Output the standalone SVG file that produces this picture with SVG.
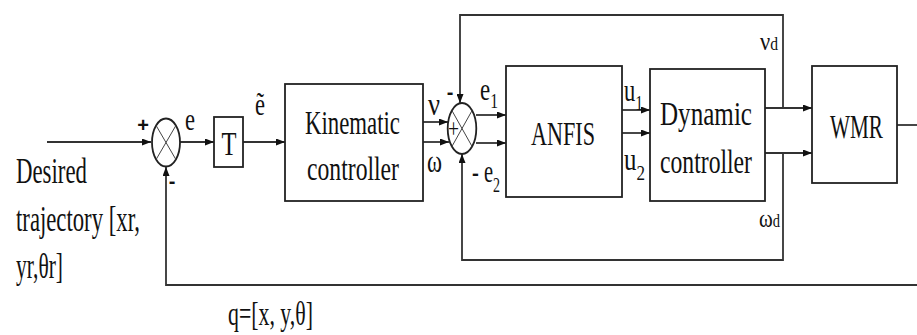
<svg xmlns="http://www.w3.org/2000/svg" width="917" height="335" viewBox="0 0 917 335">
<defs>
<marker id="ah" markerWidth="9" markerHeight="7" refX="9" refY="3.5" orient="auto" markerUnits="userSpaceOnUse">
<path d="M0,0 L9,3.5 L0,7 z" fill="#111"/>
</marker>
<style>
.box{fill:#fff;stroke:#222;stroke-width:1.8}
.ln{fill:none;stroke:#333;stroke-width:1.8}
.ar{fill:none;stroke:#333;stroke-width:1.8;marker-end:url(#ah)}
.x{stroke:#444;stroke-width:1}
.t{fill:#111;font-family:"Times New Roman","Liberation Serif","DejaVu Serif",serif}
.big{font-size:34px}
.lab{font-size:32px}
.sg{fill:#111;font-family:"Liberation Sans",Arial,sans-serif;font-weight:bold;font-size:20px}
</style>
</defs>
<rect width="917" height="335" fill="#fff"/>

<g id="connectors">
<line class="ar" x1="47" y1="142" x2="151" y2="142"/>
<line class="ar" x1="180" y1="142" x2="214" y2="142"/>
<line class="ar" x1="243" y1="142" x2="285" y2="142"/>
<line class="ar" x1="423" y1="122" x2="448" y2="122"/>
<line class="ar" x1="423" y1="142" x2="449" y2="142"/>
<line class="ar" x1="476" y1="115" x2="506" y2="115"/>
<line class="ar" x1="476" y1="143" x2="506" y2="143"/>
<line class="ar" x1="622" y1="110" x2="650" y2="110"/>
<line class="ar" x1="622" y1="133" x2="650" y2="133"/>
<line class="ar" x1="765" y1="108" x2="812" y2="108"/>
<line class="ar" x1="765" y1="153" x2="812" y2="153"/>
<line class="ln" x1="897" y1="125" x2="917" y2="125"/>
<polyline class="ar" points="783,108 783,15 460,15 460,103"/>
<polyline class="ar" points="783,153 783,260 462,260 462,154"/>
<polyline class="ar" points="917,285 166,285 166,167"/>
</g>

<g id="sum1">
<ellipse class="box" cx="166" cy="142.5" rx="14" ry="24"/>
<line class="x" x1="156.1" y1="125.5" x2="175.9" y2="159.5"/>
<line class="x" x1="175.9" y1="125.5" x2="156.1" y2="159.5"/>
<text class="sg" x="143" y="132" text-anchor="middle">+</text>
<text class="sg" x="172" y="188" text-anchor="middle">-</text>
</g>

<g id="T">
<rect class="box" x="214" y="117" width="29" height="50"/>
<text class="t big" x="221.5" y="155" textLength="15" lengthAdjust="spacingAndGlyphs">T</text>
</g>

<g id="kinematic">
<rect class="box" x="285" y="84" width="138" height="117"/>
<text class="t big" x="305" y="134" textLength="95" lengthAdjust="spacingAndGlyphs">Kinematic</text>
<text class="t big" x="307" y="180" textLength="92" lengthAdjust="spacingAndGlyphs">controller</text>
</g>

<g id="sum2">
<ellipse class="box" cx="462" cy="128.5" rx="14.3" ry="25.5"/>
<line class="x" x1="451.9" y1="110.5" x2="472.1" y2="146.5"/>
<line class="x" x1="472.1" y1="110.5" x2="451.9" y2="146.5"/>
<text class="t" x="448" y="138" font-size="28" textLength="11" lengthAdjust="spacingAndGlyphs">+</text>
<text class="sg" x="450" y="99" text-anchor="middle">-</text>
</g>

<g id="anfis">
<rect class="box" x="506" y="66" width="116" height="131"/>
<text class="t big" x="531" y="145" textLength="64" lengthAdjust="spacingAndGlyphs">ANFIS</text>
</g>

<g id="dynamic">
<rect class="box" x="650" y="69" width="115" height="132"/>
<text class="t big" x="660" y="125" textLength="92" lengthAdjust="spacingAndGlyphs">Dynamic</text>
<text class="t big" x="660" y="173" textLength="92" lengthAdjust="spacingAndGlyphs">controller</text>
</g>

<g id="wmr">
<rect class="box" x="812" y="66" width="85" height="117"/>
<text class="t big" x="830" y="138" textLength="53" lengthAdjust="spacingAndGlyphs">WMR</text>
</g>

<g id="labels">
<text class="t" x="16" y="183" font-size="36" textLength="71" lengthAdjust="spacingAndGlyphs">Desired</text>
<text class="t" x="16" y="231" font-size="36" textLength="124" lengthAdjust="spacingAndGlyphs">trajectory [xr,</text>
<text class="t" x="16" y="278" font-size="36" textLength="47" lengthAdjust="spacingAndGlyphs">yr,θr]</text>
<text class="t lab" x="185" y="130" textLength="10" lengthAdjust="spacingAndGlyphs">e</text>
<text class="t lab" x="255" y="115" textLength="10" lengthAdjust="spacingAndGlyphs">ẽ</text>
<text class="t lab" x="428" y="115" textLength="12" lengthAdjust="spacingAndGlyphs">ν</text>
<text class="t lab" x="427" y="172" textLength="15" lengthAdjust="spacingAndGlyphs">ω</text>
<text class="t lab" x="480" y="100" textLength="18" lengthAdjust="spacingAndGlyphs">e<tspan dy="8" font-size="22">1</tspan></text>
<text class="t lab" x="472" y="182" textLength="28" lengthAdjust="spacingAndGlyphs">- e<tspan dy="10" font-size="22">2</tspan></text>
<text class="t lab" x="624" y="101" textLength="19" lengthAdjust="spacingAndGlyphs">u<tspan dy="9" font-size="22">1</tspan></text>
<text class="t lab" x="624" y="170" textLength="21" lengthAdjust="spacingAndGlyphs">u<tspan dy="10" font-size="22">2</tspan></text>
<text class="t" x="760" y="50" font-size="26" textLength="18" lengthAdjust="spacingAndGlyphs">ν<tspan font-size="18">d</tspan></text>
<text class="t" x="759" y="227" font-size="26" textLength="21" lengthAdjust="spacingAndGlyphs">ω<tspan font-size="18">d</tspan></text>
<text class="t" x="228" y="325" font-size="34" textLength="85" lengthAdjust="spacingAndGlyphs">q=[x, y,θ]</text>
</g>
</svg>
